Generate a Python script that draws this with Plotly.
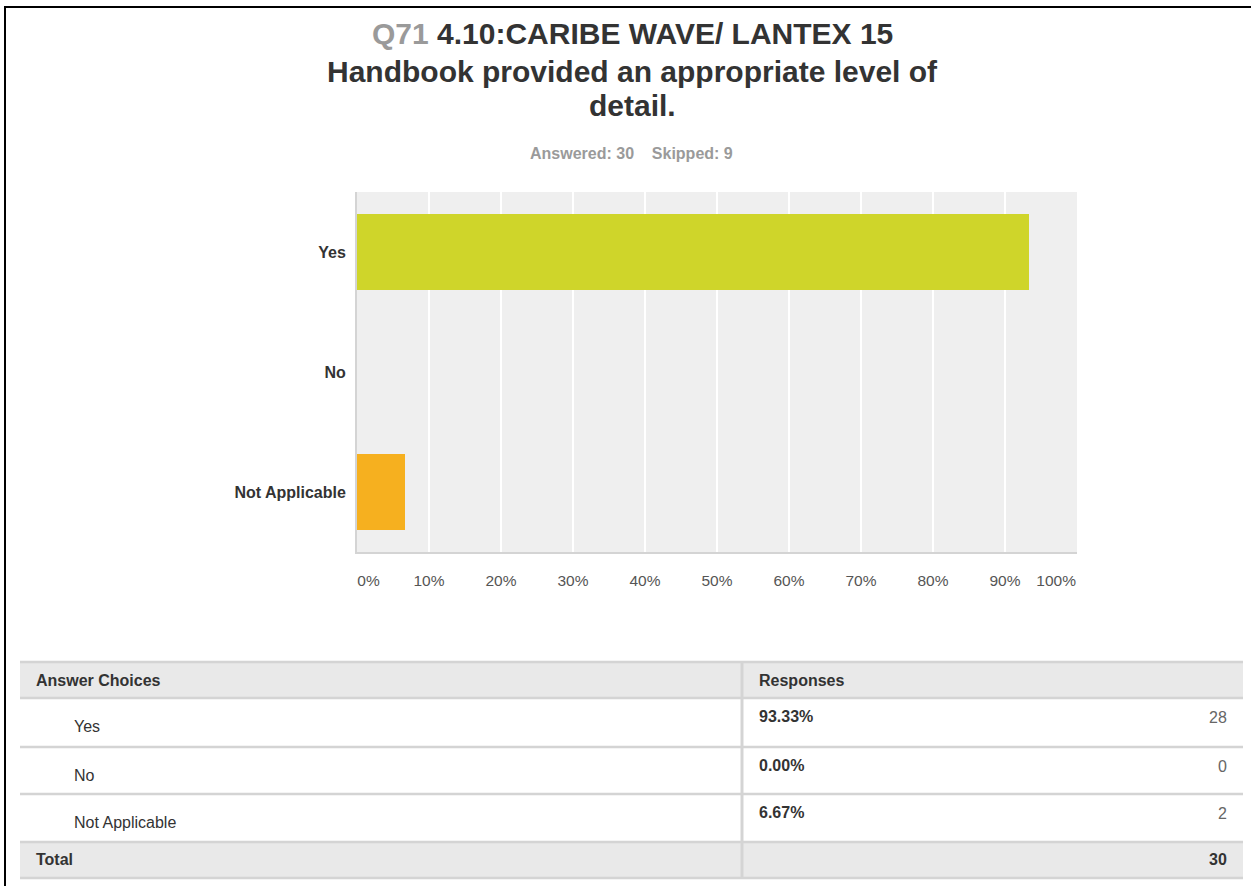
import plotly.graph_objects as go

# ---- survey data -------------------------------------------------------
question_no = "Q71"
question_text = ["4.10:CARIBE WAVE/ LANTEX 15",
                 "Handbook provided an appropriate level of",
                 "detail."]
answered = 30
skipped = 9

choices = ["Yes", "No", "Not Applicable"]
counts = [28, 0, 2]
bar_colors = ["#CFD52A", "#2DB7C7", "#F6B01F"]

tick_values = [0, 10, 20, 30, 40, 50, 60, 70, 80, 90, 100]
tick_labels = ["0%", "10%", "20%", "30%", "40%", "50%", "60%", "70%", "80%", "90%", "100%"]

total = sum(counts)
percents = [c / total * 100 for c in counts]

# ---- page geometry (pixels) -------------------------------------------
W, H = 1251, 886
FONT = "Liberation Sans, Arial, Helvetica, sans-serif"
DARK = "#333333"
GREY_TXT = "#9a9a9a"
RULE = "#d4d4d4"
BAND = "#e9e9e9"

def px(x):
    return x / W

def py(y):
    return 1 - y / H

plot_l, plot_r, plot_t, plot_b = 357, 1077, 192, 552

fig = go.Figure()

fig.add_trace(go.Bar(
    x=percents, y=choices, orientation="h",
    marker=dict(color=bar_colors, line=dict(width=0)),
    hoverinfo="skip", showlegend=False,
))

# carrier trace for the label axis
fig.add_trace(go.Scatter(
    x=[0], y=[choices[0]], xaxis="x2", mode="markers",
    marker=dict(opacity=0), hoverinfo="skip", showlegend=False,
))

# end labels sit inside the plot edges, the rest are centred on their ticks
label_pos = list(tick_values)
label_pos[0] = tick_values[0] + 1.6
label_pos[-1] = tick_values[-1] - 2.9

fig.update_layout(
    width=W, height=H,
    margin=dict(l=0, r=0, t=0, b=0),
    paper_bgcolor="white",
    plot_bgcolor="#efefef",
    font=dict(family=FONT, color=DARK),
    bargap=0.367,
    xaxis=dict(
        domain=[px(plot_l), px(plot_r)], range=[0, 100],
        tickvals=tick_values, showticklabels=False, ticks="",
        showgrid=True, gridcolor="white", gridwidth=2,
        zeroline=False, showline=True, linecolor=RULE, linewidth=2,
        fixedrange=True,
    ),
    xaxis2=dict(
        overlaying="x", domain=[px(plot_l), px(plot_r)], range=[0, 100],
        side="bottom", anchor="y",
        tickvals=label_pos, ticktext=tick_labels,
        ticks="outside", ticklen=14, tickcolor="rgba(0,0,0,0)",
        tickfont=dict(size=15.5, color="#555555", family=FONT),
        showgrid=False, zeroline=False, showline=False, fixedrange=True,
    ),
    yaxis=dict(
        domain=[py(plot_b), py(plot_t)],
        categoryorder="array", categoryarray=choices, autorange="reversed",
        ticks="outside", ticklen=6, tickcolor="rgba(0,0,0,0)",
        tickfont=dict(size=16, color=DARK, family=FONT, weight="bold"),
        showgrid=False, zeroline=False, showline=True, linecolor=RULE, linewidth=2,
        fixedrange=True,
    ),
)

shapes = []
annotations = []

# page frame (top and left edges)
shapes.append(dict(type="line", xref="paper", yref="paper",
                   x0=px(4), x1=1, y0=py(7), y1=py(7),
                   line=dict(color="black", width=2)))
shapes.append(dict(type="line", xref="paper", yref="paper",
                   x0=px(5), x1=px(5), y0=py(7), y1=0,
                   line=dict(color="black", width=2)))

# title block
title_x = px(632)
title_lines = [f"<span style='color:{GREY_TXT}'>{question_no}</span> <b>{question_text[0]}</b>",
               f"<b>{question_text[1]}</b>",
               f"<b>{question_text[2]}</b>"]
for line, yc in zip(title_lines, [34, 71, 105]):
    annotations.append(dict(text=line, x=title_x, y=py(yc), xref="paper", yref="paper",
                            xanchor="center", yanchor="middle", showarrow=False,
                            font=dict(size=30, color=DARK, family=FONT, weight="bold")))
annotations.append(dict(
    text=f"Answered: {answered}&nbsp;&nbsp;&nbsp;&nbsp;Skipped: {skipped}",
    x=px(631), y=py(154), xref="paper", yref="paper",
    xanchor="center", yanchor="middle", showarrow=False,
    font=dict(size=16, color=GREY_TXT, family=FONT, weight="bold")))

# ---- response table -----------------------------------------------------
tab_l, tab_r, col_x = 20, 1243, 742
row_edges = [662, 698, 747, 794, 842, 878]

# shaded header and total bands
for y0, y1 in [(row_edges[0], row_edges[1]), (row_edges[-2], row_edges[-1])]:
    shapes.append(dict(type="rect", xref="paper", yref="paper",
                       x0=px(tab_l), x1=px(tab_r), y0=py(y1), y1=py(y0),
                       fillcolor=BAND, line=dict(width=0), layer="below"))
# horizontal rules
for ye in row_edges:
    shapes.append(dict(type="line", xref="paper", yref="paper",
                       x0=px(tab_l), x1=px(tab_r), y0=py(ye), y1=py(ye),
                       line=dict(color=RULE, width=2.5)))
# column divider
shapes.append(dict(type="line", xref="paper", yref="paper",
                   x0=px(col_x), x1=px(col_x), y0=py(row_edges[-1]), y1=py(row_edges[0]),
                   line=dict(color=RULE, width=3)))

def cell(text, x, y, anchor="left", bold=False, color=DARK, size=16):
    annotations.append(dict(text=text, x=px(x), y=py(y), xref="paper", yref="paper",
                            xanchor=anchor, yanchor="middle", showarrow=False,
                            font=dict(size=size, color=color, family=FONT,
                                      weight="bold" if bold else "normal")))

cell("Answer Choices", 34, 680, bold=True)
cell("Responses", 757, 680, bold=True)
for i, (name, pct, cnt) in enumerate(zip(choices, percents, counts)):
    top = row_edges[i + 1]
    cell(name, 72, top + 28)
    cell(f"{pct:.2f}%", 757, top + 18, bold=True)
    cell(str(cnt), 1229, top + 19, anchor="right", color="#666666")
cell("Total", 34, 859, bold=True)
cell(str(total), 1229, 859, anchor="right", bold=True)

fig.update_layout(shapes=shapes, annotations=annotations)

fig.write_html("out.html")
